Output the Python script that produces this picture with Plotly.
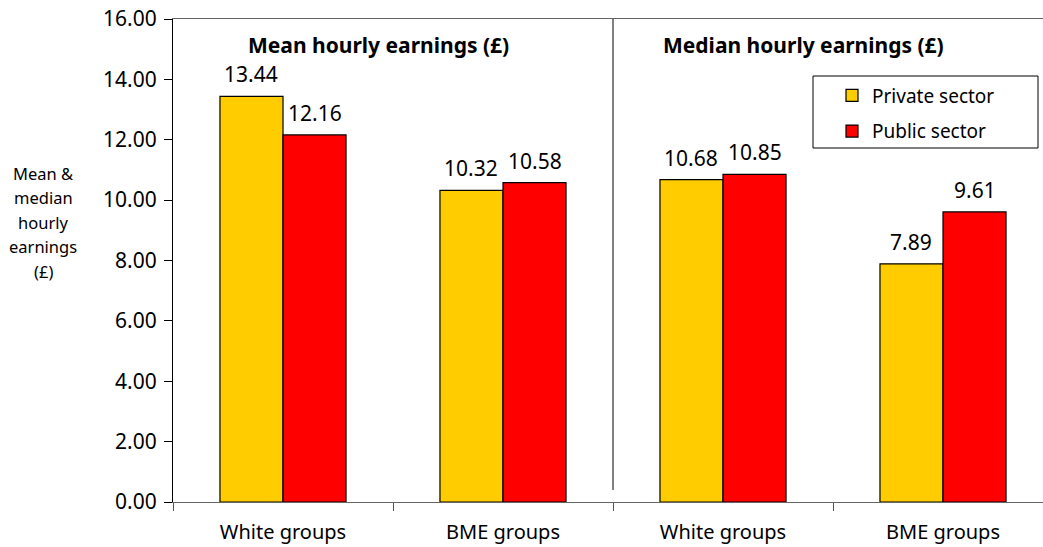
import plotly.graph_objects as go

categories = ["White groups", "BME groups", "White groups ", "BME groups "]
tick_labels = ["White groups", "BME groups", "White groups", "BME groups"]
private_sector = [13.44, 10.32, 10.68, 7.89]
public_sector = [12.16, 10.58, 10.85, 9.61]
panel_titles = ["Mean hourly earnings (£)", "Median hourly earnings (£)"]
y_title_lines = ["Mean &", "median", "hourly", "earnings", "(£)"]

FONT = "Noto Sans"
W, H = 1043, 547
ML, MT, MB, MR = 173, 19, 45, 0
PW, PH = W - ML - MR, H - MT - MB
BARGAP = 0.427
half = (1 - BARGAP) / 4   # half of one bar's width in category units


def px_x(fx):
    return (fx - ML) / PW


def px_y(fy):
    return 1 - (fy - MT) / PH


fig = go.Figure()
fig.add_trace(go.Bar(
    name="Private sector", x=categories, y=private_sector, legendgroup="a",
    marker=dict(color="#FFCC00", line=dict(color="black", width=1.2)),
))
fig.add_trace(go.Bar(
    name="Public sector", x=categories, y=public_sector, legendgroup="b",
    marker=dict(color="#FF0000", line=dict(color="black", width=1.2)),
))

# Value labels above bars
for i, (a, b) in enumerate(zip(private_sector, public_sector)):
    for dx, v in ((-half, a), (half, b)):
        fig.add_annotation(x=i + dx, y=v, xref="x", yref="y", text=f"{v:.2f}",
                           showarrow=False, yanchor="bottom", xanchor="center", yshift=6,
                           font=dict(size=21, family=FONT, color="black"))

fig.update_layout(
    width=W, height=H,
    margin=dict(l=ML, r=MR, t=MT, b=MB, autoexpand=False),
    paper_bgcolor="white", plot_bgcolor="white",
    barmode="group", bargap=BARGAP, bargroupgap=0,
    font=dict(family=FONT, size=19, color="black"),
    showlegend=True,
    legend=dict(x=px_x(832), y=px_y(76.5), xanchor="left", yanchor="top",
                bgcolor="rgba(0,0,0,0)", borderwidth=0,
                font=dict(size=19, family=FONT), tracegroupgap=8),
    xaxis=dict(type="category", range=[-0.5, 3.4545], tickson="boundaries",
               ticks="outside", ticklen=8, tickcolor="#555555",
               showline=True, linecolor="#666666", linewidth=1.2, mirror=True,
               showgrid=False, tickvals=categories, ticktext=tick_labels,
               ticklabelstandoff=12, automargin=False,
               tickfont=dict(size=20, family=FONT)),
    yaxis=dict(range=[0, 16], dtick=2, tickformat=".2f", ticks="outside", ticklen=8,
               tickcolor="black", showline=True, linecolor="black", linewidth=1.2,
               showgrid=False, zeroline=False, ticklabelstandoff=3,
               ticklabeloverflow="allow", automargin=False,
               tickfont=dict(size=21, family=FONT)),
)

# Panel divider
fig.add_shape(type="line", xref="x", yref="y", x0=1.5, x1=1.5, y0=0.4, y1=16,
              line=dict(color="black", width=1))
# Legend box
fig.add_shape(type="rect", xref="paper", yref="paper",
              x0=px_x(813), x1=px_x(1038), y0=px_y(148), y1=px_y(76),
              line=dict(color="black", width=1), fillcolor="rgba(0,0,0,0)")

# Panel titles
fig.add_annotation(text="<b>" + panel_titles[0] + "</b>", xref="x", yref="paper",
                   x=0.434, y=px_y(45), showarrow=False,
                   font=dict(size=21, family=FONT), xanchor="center", yanchor="middle")
fig.add_annotation(text="<b>" + panel_titles[1] + "</b>", xref="x", yref="paper",
                   x=2.368, y=px_y(45), showarrow=False,
                   font=dict(size=21, family=FONT), xanchor="center", yanchor="middle")

# Y-axis title, one line at a time
for k, line in enumerate(y_title_lines):
    fig.add_annotation(text=line, xref="paper", yref="paper",
                       x=px_x(43), y=px_y(173 + 24.6 * k), showarrow=False,
                       font=dict(size=16.5, family=FONT), xanchor="center", yanchor="middle")

fig.write_html("out.html", config={"displayModeBar": False},
               post_script="document.body.style.margin='0';")
